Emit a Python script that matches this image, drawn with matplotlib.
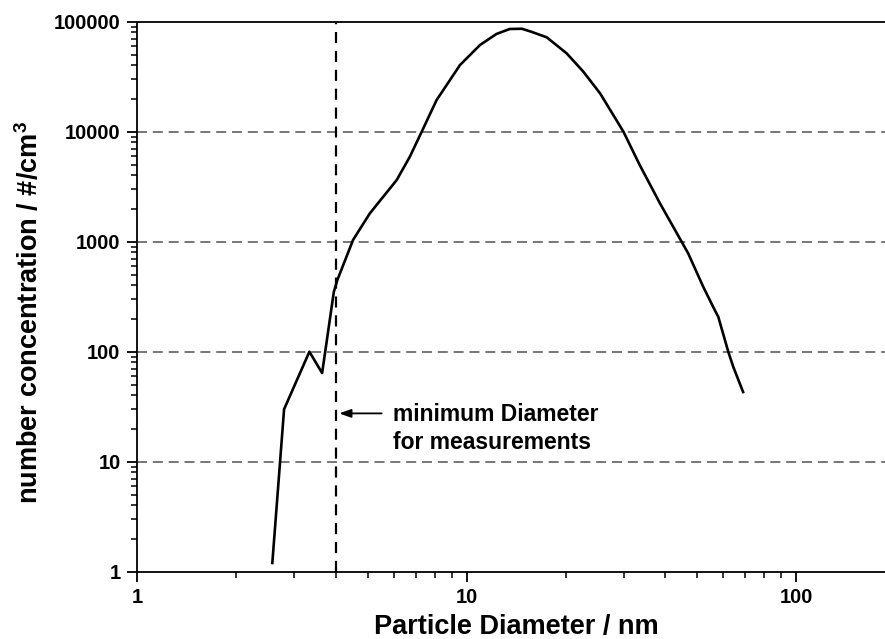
import matplotlib
matplotlib.use("Agg")
import matplotlib.pyplot as plt
from matplotlib.ticker import LogLocator, NullFormatter, FixedLocator, FixedFormatter

plt.rcParams['font.family'] = ['Liberation Sans', 'DejaVu Sans']
plt.rcParams['font.weight'] = 'bold'
plt.rcParams['mathtext.fontset'] = 'custom'
plt.rcParams['mathtext.rm'] = 'Liberation Sans:bold'
plt.rcParams['mathtext.bf'] = 'Liberation Sans:bold'

# Size distribution (diameter in nm, number concentration in #/cm^3)
diameter_nm = [2.57, 2.79, 3.33, 3.64, 3.95, 4.05, 4.52, 5.08, 6.13, 6.72,
               7.3, 8.1, 9.54, 10.97, 12.3, 13.5, 14.7, 15.7, 17.5, 20.1,
               22.6, 25.4, 29.9, 33.5, 38.6, 44.9, 47.0, 52.2, 56.6, 58.0,
               62.2, 64.4, 69.0]
concentration = [1.2, 30, 100, 64, 350, 450, 1040, 1810, 3640, 5930,
                 10000, 19400, 40400, 61400, 77300, 85900, 86300, 81100, 72100, 51600,
                 35100, 22300, 10000, 4980, 2230, 1000, 784, 390, 239, 208,
                 100, 73, 43]

min_diameter = 4.0
y_ticks = [1, 10, 100, 1000, 10000, 100000]
y_tick_labels = ["1", "10", "100", "1000", "10000", "100000"]
x_ticks = [1, 10, 100]
x_tick_labels = ["1", "10", "100"]
annotation_text = "minimum Diameter\nfor measurements"

fig = plt.figure(figsize=(8.85, 6.39), dpi=100)
ax = fig.add_axes([0.1551, 0.1053, 0.8449, 0.8607])
ax.set_xscale('log')
ax.set_yscale('log')
ax.set_xlim(1, 186)
ax.set_ylim(1, 100000)

# horizontal reference lines at the decades
for yv in y_ticks[1:-1]:
    ax.axhline(yv, color='#606060', lw=1.2, ls=(0, (6, 3.5)), zorder=1)

# detection limit
ax.axvline(min_diameter, color='black', lw=1.6, ls=(0, (5, 3.5)), zorder=2)

ax.plot(diameter_nm, concentration, color='black', lw=1.9, zorder=3)

ax.annotate('', xy=(4.1, 27.5), xytext=(5.52, 27.5),
            arrowprops=dict(arrowstyle='-|>,head_length=0.7,head_width=0.25',
                            color='black', lw=1.3, shrinkA=0, shrinkB=0))
ax.text(5.98, 20.0, annotation_text, fontsize=16.5, fontweight='bold',
        ha='left', va='center', linespacing=1.25)

# ticks
ax.xaxis.set_major_locator(FixedLocator(x_ticks))
ax.xaxis.set_major_formatter(FixedFormatter(x_tick_labels))
ax.xaxis.set_minor_locator(LogLocator(base=10, subs=range(2, 10), numticks=20))
ax.xaxis.set_minor_formatter(NullFormatter())
ax.yaxis.set_major_locator(FixedLocator(y_ticks))
ax.yaxis.set_major_formatter(FixedFormatter(y_tick_labels))
ax.yaxis.set_minor_locator(LogLocator(base=10, subs=range(2, 10), numticks=20))
ax.yaxis.set_minor_formatter(NullFormatter())

ax.tick_params(which='major', direction='out', length=7, width=1.3,
               labelsize=14.5, pad=5)
ax.tick_params(which='minor', direction='out', length=4, width=1.1)
for lab in ax.get_xticklabels() + ax.get_yticklabels():
    lab.set_fontweight('bold')

for side in ['left', 'bottom', 'top']:
    ax.spines[side].set_linewidth(1.3)
ax.spines['right'].set_visible(False)

ax.set_xlabel('Particle Diameter / nm', fontsize=19.5, fontweight='bold')
ax.set_ylabel(r'number concentration / #/cm$^{\mathrm{3}}$', fontsize=19.5,
              fontweight='bold')
ax.xaxis.set_label_coords(0.507, -0.1005)
ax.xaxis.label.set_va('center')
ax.yaxis.set_label_coords(-0.1435, 0.472)
ax.yaxis.label.set_va('center')

fig.savefig('out.png', dpi=100)
